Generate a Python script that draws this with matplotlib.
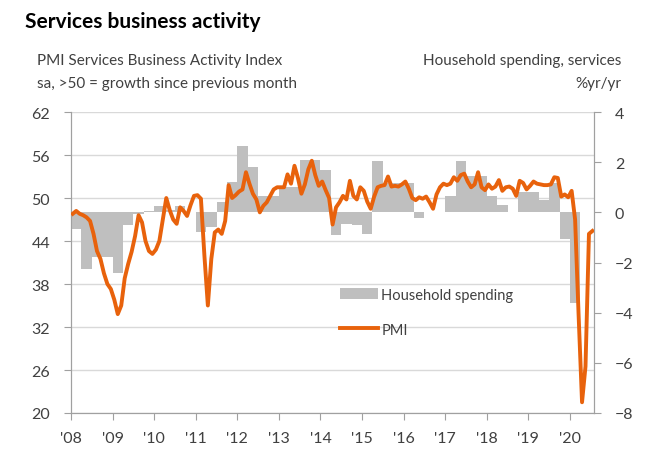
import numpy as np
import matplotlib.pyplot as plt
import matplotlib as mpl
from matplotlib.patches import Patch
from matplotlib.lines import Line2D

mpl.rcParams['font.family'] = ['Lato', 'DejaVu Sans']
mpl.rcParams['font.size'] = 11

# PMI services business activity, monthly from Jan 2008 to Jul 2020
pmi = [47.8, 48.2, 47.8, 47.6, 47.3, 46.8, 45.0, 42.6, 41.5, 39.5, 38.0, 37.3,
       35.8, 33.8, 35.0, 38.8, 40.8, 42.5, 44.7, 47.6, 46.6, 44.0, 42.6, 42.2,
       42.8, 44.0, 47.0, 50.0, 48.3, 47.0, 46.4, 48.7, 48.2, 47.5, 49.0, 50.3,
       50.4, 49.9, 42.0, 35.0, 41.5, 45.2, 45.6, 45.0, 46.8, 51.8, 50.0, 50.4,
       50.9, 51.2, 53.6, 52.0, 50.6, 49.8, 48.0, 48.9, 49.4, 50.3, 51.2, 51.5,
       51.5, 51.5, 53.3, 52.0, 54.5, 52.8, 50.6, 51.9, 54.0, 55.2, 53.2, 51.7,
       52.3, 51.1, 50.0, 46.3, 48.7, 49.4, 50.3, 49.8, 52.4, 50.3, 49.8, 51.5,
       51.0, 49.5, 48.5, 50.2, 51.5, 51.7, 51.8, 53.0, 51.6, 51.7, 51.6, 51.9,
       52.3, 51.3, 50.0, 49.7, 50.1, 49.9, 50.2, 49.4, 48.5, 50.5, 51.5, 52.0,
       51.8, 52.0, 52.9, 52.4, 53.2, 53.4, 52.3, 51.5, 51.9, 53.6, 51.5, 51.1,
       51.9, 51.3, 51.6, 52.5, 51.0, 51.5, 51.6, 51.3, 50.3, 52.4, 52.1, 51.2,
       51.7, 52.3, 52.0, 51.9, 51.8, 51.8, 51.9, 52.9, 52.8, 50.2, 50.5, 50.1,
       51.0, 47.0, 33.8, 21.5, 26.5, 45.0, 45.4]

# Household spending on services, %yr/yr, quarterly from 2008Q1 to 2020Q1
spend = [-0.65, -2.27, -1.8, -1.8,
         -2.4, -0.5, -0.05, 0.05,
         0.25, 0.08, 0.25, 0.0,
         -0.8, -0.57, 0.4, 1.2,
         2.64, 1.8, 0.65, 0.65,
         1.0, 1.0, 2.1, 2.1,
         1.68, -0.9, -0.45, -0.5,
         -0.85, 2.04, 1.18, 1.18,
         1.18, -0.22, 0.0, 0.0,
         0.65, 2.04, 1.45, 1.45,
         0.65, 0.31, 0.0, 0.81,
         0.81, 0.5, 1.18, -1.08,
         -3.6]

years = list(range(2008, 2021))
year_labels = ["'%02d" % (y % 100) for y in years]

t_pmi = 2008 + (np.arange(len(pmi)) + 0.5) / 12.0
t_spend = 2008 + np.arange(len(spend)) * 0.25

orange = '#E8620C'
grey = '#BFBFBF'
axcol = '#A0A0A0'
txtcol = '#404040'

fig = plt.figure(figsize=(6.55, 4.6), dpi=100)
ax = fig.add_axes([0.1084, 0.1, 0.7985, 0.6543])
ax2 = ax.twinx()
ax3 = ax.twinx()

# left axis: grid + ticks
ax.set_ylim(20, 62)
ax.set_yticks(np.arange(20, 63, 6))
ax.grid(axis='y', color='#D9D9D9', linewidth=1)
ax.set_axisbelow(True)
ax.set_xlim(2008, 2020.58)
ax.set_xticks(years)
ax.set_xticklabels(year_labels)

# right axis: household spending bars
ax2.bar(t_spend, spend, width=0.25, align='edge', color=grey, linewidth=0)
ax2.set_ylim(-8, 4)
ax2.set_yticks(np.arange(-8, 5, 2))

# PMI line on top
ax3.plot(t_pmi, pmi, color=orange, linewidth=2.8, solid_joinstyle='round')
ax3.set_ylim(20, 62)
ax3.set_yticks([])
for s in ax3.spines.values():
    s.set_visible(False)

for a in (ax, ax2):
    a.spines['top'].set_visible(False)
    for s in ('left', 'right', 'bottom'):
        a.spines[s].set_color(axcol)
    a.tick_params(colors=axcol, labelcolor=txtcol, labelsize=11.5, length=5, direction='out')
ax.tick_params(axis='y', pad=10)
ax2.tick_params(axis='y', pad=10)
ax.tick_params(axis='x', pad=8)

handles = [Patch(facecolor=grey, edgecolor='none'),
           Line2D([0], [0], color=orange, linewidth=2.8)]
leg = ax3.legend(handles, ['Household spending', 'PMI'], loc='upper left',
                 bbox_to_anchor=(0.49, 0.46), frameon=False, fontsize=10.5,
                 labelspacing=1.45, handlelength=2.6, handleheight=0.8,
                 handletextpad=0.2, labelcolor=txtcol)

fig.text(0.038, 0.952, 'Services business activity', fontsize=15,
         fontweight='bold', color='black', va='center')
fig.text(0.056, 0.868, 'PMI Services Business Activity Index', fontsize=11,
         color=txtcol, va='center')
fig.text(0.056, 0.818, 'sa, >50 = growth since previous month', fontsize=11,
         color=txtcol, va='center')
fig.text(0.948, 0.868, 'Household spending, services', fontsize=11,
         color=txtcol, va='center', ha='right')
fig.text(0.948, 0.818, '%yr/yr', fontsize=11,
         color=txtcol, va='center', ha='right')

fig.savefig('out.png', dpi=100)
